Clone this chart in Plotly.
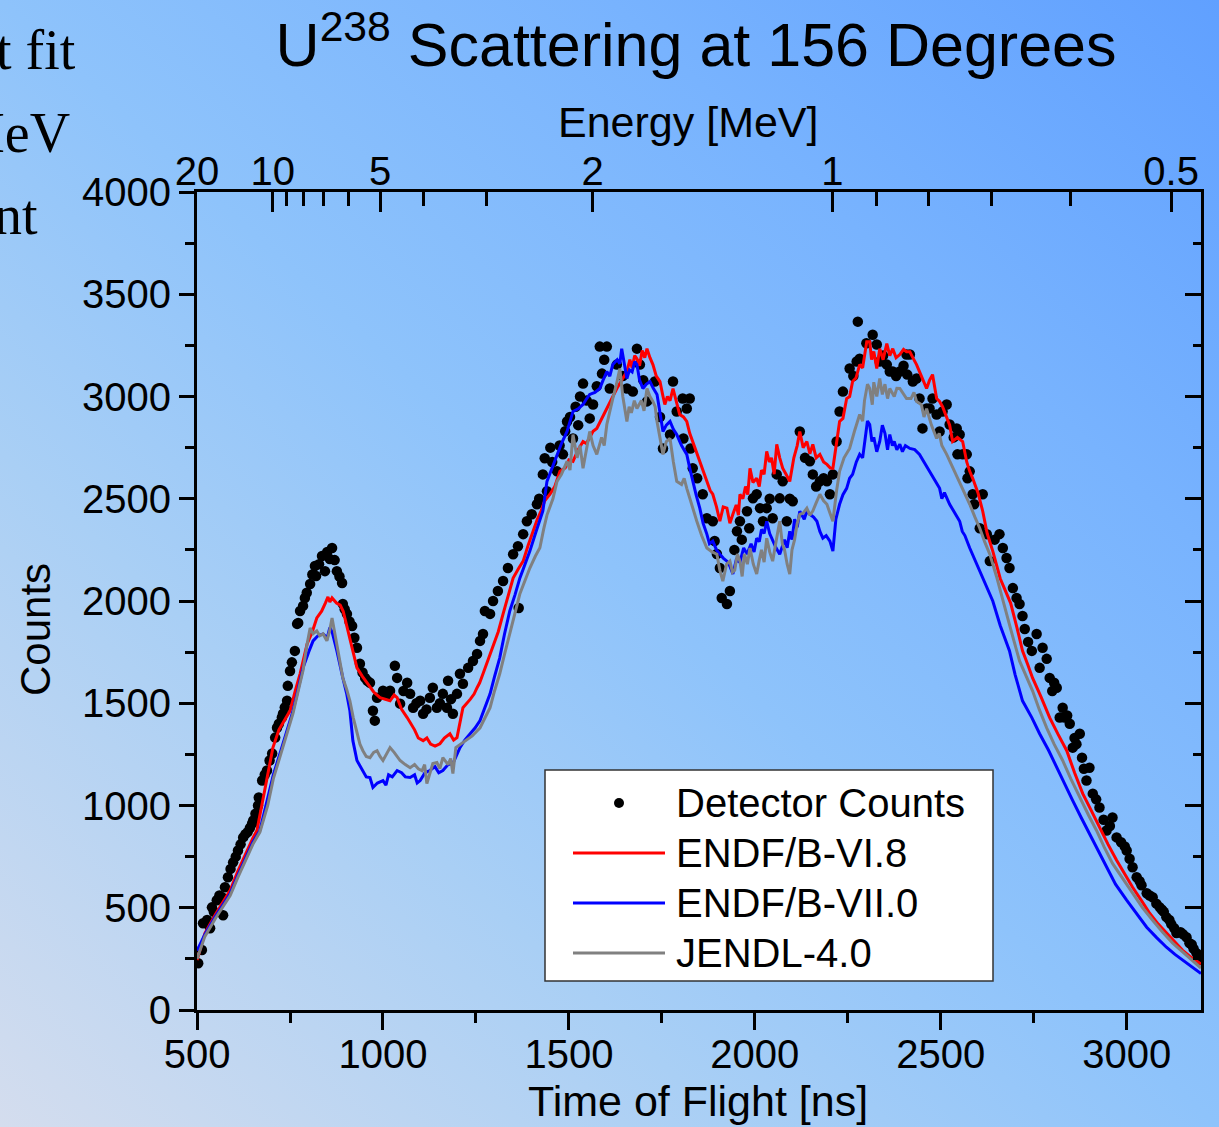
import base64
import plotly.graph_objects as go

# ---------------- data ----------------
DETECTOR = [(503,229),(513,293),(516,424),(527,440),(535,400),(540,502),(545,480),(553,537),(560,560),(567,551),(570,463),(575,600),(583,649),(590,690),(597,722),(604,750),(610,780),(617,810),(624,844),(630,860),(636,870),(642,890),(648,912),(651,927),(657,960),(664,1000),(666,1039),(675,1122),(682,1150),(688,1171),(695,1220),(702,1254),(710,1332),(715,1380),(720,1400),(728,1430),(731,1449),(736,1480),(742,1512),(744,1585),(750,1658),(755,1700),(763,1756),(769,1888),(772,1893),(777,1951),(785,1976),(790,2015),(795,2040),(804,2083),(810,2130),(817,2171),(820,2122),(828,2180),(836,2220),(844,2146),(850,2240),(857,2205),(863,2259),(870,2200),(876,2146),(883,2120),(890,2088),(892,1985),(897,1960),(903,1937),(910,1900),(917,1878),(923,1820),(930,1771),(938,1693),(945,1650),(952,1624),(958,1610),(965,1600),(973,1463),(978,1415),(984,1527),(1000,1561),(1010,1540),(1019,1561),(1032,1683),(1038,1624),(1046,1498),(1055,1560),(1065,1600),(1073,1546),(1081,1478),(1090,1500),(1100,1512),(1108,1449),(1117,1470),(1126,1527),(1134,1576),(1145,1478),(1153,1500),(1161,1546),(1172,1478),(1175,1610),(1183,1520),(1188,1449),(1199,1546),(1207,1644),(1215,1595),(1229,1673),(1242,1707),(1253,1741),(1261,1805),(1269,1839),(1274,1951),(1288,1937),(1296,2000),(1309,2049),(1323,2098),(1336,2161),(1350,2229),(1363,2268),(1365,1966),(1377,2327),(1387,2390),(1400,2424),(1414,2473),(1420,2500),(1430,2619),(1435,2698),(1441,2537),(1450,2750),(1455,2680),(1468,2634),(1475,2760),(1484,2717),(1490,2830),(1495,2878),(1503,2900),(1511,2795),(1518,2950),(1525,2860),(1530,3000),(1538,3063),(1548,2980),(1556,2893),(1565,2961),(1575,3050),(1583,3244),(1589,3112),(1595,3180),(1602,3244),(1610,3039),(1629,3156),(1645,3100),(1656,3039),(1672,3024),(1683,3234),(1691,3156),(1700,3080),(1710,2976),(1731,3073),(1745,2900),(1753,2746),(1772,2814),(1780,3073),(1790,2927),(1806,2990),(1808,2795),(1817,2941),(1825,2990),(1827,2746),(1833,2649),(1845,2600),(1860,2522),(1871,2405),(1887,2390),(1892,2293),(1898,2230),(1906,2161),(1911,2015),(1925,1985),(1933,2049),(1945,2250),(1952,2341),(1960,2390),(1965,2300),(1979,2439),(1985,2356),(1995,2502),(2005,2522),(2014,2454),(2022,2390),(2032,2454),(2040,2500),(2048,2405),(2059,2619),(2067,2502),(2075,2585),(2086,2390),(2094,2500),(2102,2488),(2121,2829),(2135,2700),(2148,2683),(2156,2619),(2165,2560),(2175,2585),(2185,2600),(2194,2585),(2202,2522),(2210,2619),(2220,2780),(2228,2927),(2237,3024),(2255,3137),(2265,3100),(2274,3171),(2277,3366),(2282,3185),(2300,3260),(2317,3302),(2328,3254),(2336,3171),(2345,3200),(2355,3156),(2363,3122),(2371,3122),(2380,3100),(2390,3122),(2400,3150),(2408,3205),(2410,3107),(2417,3205),(2425,3073),(2435,3088),(2443,2990),(2451,2844),(2462,2941),(2470,2941),(2478,2990),(2489,2912),(2497,2829),(2505,2927),(2516,2961),(2524,2863),(2535,2800),(2543,2844),(2545,2717),(2551,2814),(2559,2717),(2570,2717),(2572,2600),(2578,2634),(2586,2522),(2590,2473),(2605,2356),(2613,2522),(2624,2327),(2632,2195),(2645,2300),(2658,2327),(2667,2259),(2677,2210),(2685,2161),(2694,2063),(2704,2015),(2712,1985),(2720,1927),(2726,1863),(2735,1800),(2745,1756),(2758,1839),(2766,1673),(2774,1771),(2785,1717),(2793,1624),(2800,1560),(2805,1600),(2812,1576),(2820,1430),(2828,1478),(2833,1430),(2840,1440),(2847,1400),(2855,1283),(2860,1330),(2865,1300),(2874,1351),(2880,1234),(2885,1180),(2892,1122),(2900,1185),(2909,1058),(2918,1030),(2927,990),(2938,930),(2946,878),(2955,900),(2962,941),(2973,844),(2985,820),(2995,800),(3000,780),(3008,740),(3016,698),(3027,649),(3035,630),(3040,610),(3054,571),(3062,560),(3070,551),(3080,520),(3089,502),(3095,490),(3100,480),(3107,454),(3115,440),(3120,420),(3128,400),(3134,376),(3145,380),(3152,370),(3161,356),(3169,327),(3175,320),(3180,300),(3188,278),(3192,260),(3196,244)]

ENDF_B_VI_8 = [(500,244),(521,375),(550,470),(589,585),(610,680),(634,780),(650,840),(661,878),(675,1010),(690,1150),(704,1283),(720,1370),(735,1420),(750,1463),(764,1560),(777,1644),(796,1790),(810,1850),(822,1917),(835,1950),(845,1990),(852,2020),(857,1995),(863,2015),(875,1990),(885,1980),(893,1950),(902,1880),(911,1805),(920,1740),(930,1673),(945,1630),(957,1600),(975,1555),(992,1527),(1005,1520),(1019,1512),(1030,1540),(1038,1527),(1050,1470),(1065,1430),(1085,1370),(1095,1330),(1108,1317),(1118,1330),(1128,1300),(1140,1290),(1153,1302),(1165,1330),(1180,1351),(1190,1320),(1199,1332),(1207,1400),(1215,1478),(1235,1520),(1245,1545),(1253,1576),(1260,1600),(1269,1644),(1280,1700),(1296,1771),(1310,1850),(1323,1937),(1335,2020),(1350,2112),(1365,2160),(1377,2195),(1390,2270),(1403,2341),(1415,2400),(1425,2440),(1435,2490),(1449,2522),(1462,2560),(1476,2634),(1490,2650),(1500,2690),(1511,2683),(1525,2740),(1538,2780),(1547,2770),(1555,2800),(1565,2830),(1575,2844),(1590,2900),(1602,2941),(1615,2990),(1629,3039),(1642,3080),(1656,3122),(1664,3180),(1670,3140),(1677,3200),(1683,3185),(1690,3150),(1697,3225),(1704,3190),(1710,3234),(1718,3190),(1726,3156),(1735,3100),(1745,3073),(1752,3010),(1758,2961),(1765,3000),(1772,2980),(1780,3039),(1790,2960),(1798,2912),(1808,2900),(1817,2878),(1825,2820),(1833,2780),(1842,2740),(1852,2683),(1862,2630),(1871,2585),(1880,2540),(1887,2522),(1897,2460),(1906,2390),(1915,2460),(1925,2454),(1933,2380),(1941,2424),(1950,2470),(1956,2420),(1960,2522),(1968,2500),(1975,2560),(1981,2520),(1987,2649),(1995,2580),(2005,2600),(2012,2560),(2018,2640),(2025,2620),(2032,2732),(2039,2680),(2045,2700),(2052,2620),(2059,2766),(2067,2700),(2075,2649),(2084,2620),(2094,2585),(2105,2700),(2114,2760),(2121,2829),(2130,2750),(2140,2780),(2148,2720),(2156,2766),(2165,2700),(2175,2717),(2185,2680),(2194,2668),(2203,2650),(2210,2649),(2219,2760),(2228,2878),(2237,2893),(2247,2990),(2255,3000),(2263,3073),(2272,3090),(2282,3156),(2290,3140),(2295,3200),(2301,3268),(2309,3268),(2314,3180),(2320,3220),(2328,3137),(2336,3234),(2345,3180),(2355,3259),(2363,3200),(2371,3234),(2380,3190),(2390,3205),(2400,3230),(2408,3219),(2417,3219),(2425,3190),(2435,3156),(2448,3100),(2462,3039),(2470,3080),(2478,3107),(2489,2990),(2497,2976),(2505,2950),(2516,2900),(2524,2860),(2532,2780),(2545,2800),(2559,2780),(2570,2680),(2578,2634),(2586,2600),(2600,2530),(2613,2439),(2625,2330),(2640,2244),(2660,2110),(2688,1990),(2705,1870),(2720,1756),(2734,1690),(2747,1624),(2770,1530),(2793,1430),(2815,1350),(2839,1268),(2860,1160),(2882,1058),(2905,975),(2927,893),(2950,810),(2973,732),(2995,665),(3016,600),(3040,535),(3062,473),(3085,420),(3107,376),(3130,330),(3150,293),(3175,255),(3200,225)]

ENDF_B_VII_0 = [(500,290),(521,370),(550,460),(589,570),(610,660),(634,760),(650,820),(669,878),(690,1030),(705,1150),(723,1254),(740,1360),(758,1463),(772,1570),(785,1673),(800,1750),(812,1805),(825,1830),(839,1839),(850,1820),(857,1870),(863,1850),(870,1800),(876,1756),(892,1624),(902,1550),(911,1463),(919,1317),(930,1220),(946,1171),(955,1140),(965,1137),(973,1088),(985,1110),(1000,1122),(1008,1100),(1015,1150),(1025,1140),(1038,1171),(1050,1160),(1060,1140),(1073,1137),(1085,1150),(1092,1110),(1100,1122),(1113,1160),(1126,1171),(1140,1190),(1150,1160),(1161,1171),(1175,1200),(1188,1205),(1197,1240),(1207,1283),(1220,1320),(1234,1351),(1248,1380),(1261,1415),(1275,1480),(1288,1546),(1300,1630),(1314,1722),(1327,1840),(1341,1951),(1355,2030),(1368,2112),(1382,2180),(1395,2244),(1410,2330),(1422,2390),(1430,2440),(1441,2585),(1455,2650),(1468,2717),(1480,2770),(1495,2829),(1503,2880),(1511,2927),(1525,2940),(1538,2961),(1548,2990),(1556,3010),(1570,3020),(1583,3039),(1592,3080),(1602,3122),(1610,3100),(1618,3156),(1630,3180),(1637,3160),(1642,3234),(1650,3150),(1656,3088),(1663,3130),(1670,3120),(1677,3170),(1683,3156),(1690,3080),(1699,3039),(1708,3060),(1718,3073),(1727,3040),(1737,3010),(1745,2920),(1753,2829),(1762,2860),(1772,2878),(1781,2840),(1790,2814),(1803,2760),(1817,2717),(1825,2650),(1833,2585),(1842,2520),(1852,2454),(1861,2380),(1871,2327),(1878,2280),(1887,2293),(1897,2250),(1906,2229),(1915,2210),(1925,2195),(1933,2170),(1941,2132),(1950,2200),(1960,2190),(1970,2260),(1979,2229),(1990,2280),(1998,2240),(2005,2307),(2012,2290),(2018,2350),(2025,2330),(2032,2390),(2040,2330),(2048,2293),(2057,2260),(2067,2229),(2080,2300),(2087,2260),(2094,2341),(2100,2300),(2107,2400),(2114,2360),(2121,2439),(2133,2400),(2140,2440),(2148,2424),(2158,2410),(2167,2390),(2175,2340),(2183,2307),(2192,2320),(2202,2293),(2210,2244),(2218,2400),(2228,2473),(2237,2520),(2247,2551),(2255,2600),(2263,2619),(2273,2680),(2282,2717),(2290,2700),(2295,2760),(2303,2880),(2309,2863),(2315,2780),(2320,2800),(2328,2730),(2336,2780),(2343,2860),(2350,2820),(2357,2740),(2363,2814),(2370,2760),(2375,2780),(2382,2740),(2390,2766),(2397,2730),(2405,2760),(2417,2746),(2430,2740),(2443,2717),(2455,2680),(2470,2634),(2483,2590),(2497,2551),(2503,2500),(2510,2530),(2524,2473),(2538,2430),(2551,2390),(2558,2340),(2565,2320),(2578,2259),(2592,2200),(2605,2146),(2618,2090),(2632,2034),(2640,2000),(2660,1880),(2685,1756),(2700,1640),(2720,1512),(2745,1430),(2766,1351),(2790,1270),(2812,1185),(2835,1100),(2855,1024),(2878,940),(2900,863),(2925,775),(2946,698),(2970,615),(3000,537),(3027,470),(3054,405),(3080,355),(3107,307),(3130,272),(3150,244),(3175,210),(3200,178)]

JENDL_4_0 = [(500,250),(521,360),(550,450),(589,560),(610,650),(634,750),(650,810),(669,870),(690,1000),(705,1130),(723,1240),(740,1350),(758,1450),(772,1560),(785,1660),(795,1780),(804,1868),(812,1840),(822,1854),(830,1830),(839,1839),(849,1805),(856,1850),(863,1917),(870,1850),(876,1790),(884,1700),(892,1624),(902,1570),(911,1512),(920,1430),(930,1351),(938,1300),(946,1268),(955,1240),(965,1234),(975,1260),(984,1268),(992,1240),(1000,1220),(1010,1250),(1019,1283),(1030,1260),(1046,1220),(1060,1200),(1073,1185),(1085,1200),(1095,1180),(1105,1170),(1112,1200),(1118,1107),(1126,1160),(1134,1205),(1145,1210),(1153,1180),(1161,1234),(1175,1200),(1182,1230),(1188,1156),(1196,1283),(1210,1300),(1223,1317),(1240,1340),(1261,1380),(1275,1430),(1288,1478),(1300,1560),(1314,1644),(1327,1740),(1341,1839),(1355,1940),(1368,2034),(1382,2100),(1395,2161),(1410,2220),(1422,2260),(1432,2350),(1441,2420),(1457,2500),(1468,2585),(1480,2620),(1495,2683),(1503,2640),(1511,2814),(1522,2700),(1530,2760),(1538,2649),(1547,2750),(1556,2829),(1565,2760),(1575,2717),(1588,2800),(1595,2760),(1602,2863),(1610,2930),(1618,2990),(1628,3060),(1637,3137),(1645,3000),(1656,2878),(1662,2950),(1668,2920),(1676,2980),(1683,2941),(1695,2980),(1702,2930),(1710,3039),(1718,3000),(1726,2976),(1732,2950),(1737,2878),(1745,2800),(1753,2717),(1762,2780),(1772,2795),(1781,2680),(1790,2585),(1803,2570),(1810,2600),(1817,2551),(1830,2470),(1844,2390),(1857,2320),(1871,2259),(1885,2240),(1898,2229),(1906,2150),(1914,2097),(1924,2180),(1933,2195),(1940,2140),(1946,2150),(1953,2230),(1960,2195),(1966,2120),(1972,2230),(1980,2180),(1987,2259),(1996,2180),(2005,2132),(2012,2200),(2018,2250),(2025,2190),(2032,2307),(2040,2240),(2048,2195),(2058,2300),(2067,2390),(2074,2280),(2080,2250),(2087,2180),(2094,2132),(2100,2250),(2107,2300),(2114,2380),(2121,2424),(2130,2430),(2140,2454),(2148,2420),(2156,2440),(2165,2480),(2175,2522),(2185,2490),(2194,2473),(2202,2430),(2210,2390),(2220,2540),(2228,2634),(2240,2700),(2255,2746),(2268,2830),(2282,2912),(2290,2880),(2295,2980),(2303,3060),(2309,3039),(2316,2960),(2320,3070),(2328,3000),(2336,3088),(2343,3010),(2350,3060),(2357,2990),(2363,3039),(2375,3000),(2382,3040),(2390,3039),(2400,3010),(2408,2990),(2420,2990),(2428,3020),(2435,2976),(2448,2960),(2455,2900),(2462,2941),(2475,2860),(2489,2795),(2496,2820),(2503,2760),(2516,2717),(2533,2650),(2551,2585),(2565,2530),(2578,2473),(2592,2410),(2605,2356),(2618,2290),(2632,2229),(2650,2120),(2667,2000),(2690,1850),(2712,1707),(2730,1630),(2747,1561),(2765,1470),(2785,1380),(2805,1300),(2828,1220),(2850,1130),(2874,1039),(2897,955),(2919,878),(2940,795),(2962,717),(2990,640),(3016,571),(3043,500),(3070,439),(3097,380),(3124,327),(3150,285),(3177,244),(3200,205)]

SERIES_NAMES = ["Detector Counts", "ENDF/B-VI.8", "ENDF/B-VII.0", "JENDL-4.0"]
SERIES_COLORS = ["black", "#ff0000", "#0000ff", "#808080"]

TOF_TICKS = [500, 1000, 1500, 2000, 2500, 3000]
COUNT_TICKS = [0, 500, 1000, 1500, 2000, 2500, 3000, 3500, 4000]
ENERGY_MAJOR = [20, 10, 5, 2, 1, 0.5]
ENERGY_MAJOR_TEXT = ["20", "10", "5", "2", "1", "0.5"]
ENERGY_MINOR = [9, 8, 7, 6, 4, 3, 0.9, 0.8, 0.7, 0.6]

# flight-time calibration of the top energy axis (ns)
T0_NS = 8.0
K_NS = 2200.3


def energy_to_tof(e):
    return T0_NS + K_NS / e ** 0.5


def split(pairs):
    return [p[0] for p in pairs], [p[1] for p in pairs]


FONT = "Liberation Sans, Arial, sans-serif"
W, H = 1219, 1127
ML, MR, MT, MB = 197, 18, 192, 117
PW, PH = W - ML - MR, H - MT - MB

fig = go.Figure()

tx, cy = split(DETECTOR)
fig.add_trace(go.Scatter(x=tx, y=cy, mode="markers", name=SERIES_NAMES[0],
                         marker=dict(color=SERIES_COLORS[0], size=10.5, line=dict(width=0))))
for name, col, data in zip(SERIES_NAMES[1:], SERIES_COLORS[1:], [ENDF_B_VI_8, ENDF_B_VII_0, JENDL_4_0]):
    tx, cy = split(data)
    fig.add_trace(go.Scatter(x=tx, y=cy, mode="lines", name=name, line=dict(color=col, width=3)))

# empty trace so the top/right axes exist
fig.add_trace(go.Scatter(x=[], y=[], xaxis="x2", yaxis="y2", showlegend=False, hoverinfo="skip"))

# gradient background
svg = ('<svg xmlns="http://www.w3.org/2000/svg" width="1219" height="1127" viewBox="0 0 1219 1127" '
       'preserveAspectRatio="none"><defs><linearGradient id="g" x1="0" y1="1" x2="1" y2="0">'
       '<stop offset="0" stop-color="#d4ddee"/><stop offset="0.3" stop-color="#a9cff5"/>'
       '<stop offset="0.5" stop-color="#8ec3fb"/><stop offset="0.75" stop-color="#78b3fe"/>'
       '<stop offset="1" stop-color="#60a0ff"/></linearGradient></defs>'
       '<rect width="1219" height="1127" fill="url(#g)"/></svg>')
src = "data:image/svg+xml;base64," + base64.b64encode(svg.encode()).decode()

XR = [499.8, 3200]
YR = [0, 4000]
axis_common = dict(showgrid=False, zeroline=False, showline=True, linecolor="black", linewidth=3,
                   automargin=False, tickcolor="black", tickwidth=2.5,
                   tickfont=dict(family=FONT, size=40, color="black"))

fig.update_layout(
    width=W, height=H,
    margin=dict(l=ML, r=MR, t=MT, b=MB, pad=0, autoexpand=False),
    paper_bgcolor="#8cc2fa", plot_bgcolor="rgba(0,0,0,0)",
    showlegend=False,
    font=dict(family=FONT, color="black"),
    title=dict(text="U<sup>238</sup> Scattering at 156 Degrees", font=dict(family=FONT, size=61, color="black"),
               xref="container", x=0.571, xanchor="center", yref="container", y=0.96, yanchor="middle"),
    images=[dict(source=src, xref="paper", yref="paper", x=-ML / PW, y=1 + MT / PH,
                 sizex=W / PW, sizey=H / PH, xanchor="left", yanchor="top", sizing="stretch", layer="below")],
    xaxis=dict(range=XR, tickmode="array", tickvals=TOF_TICKS, ticks="outside", ticklen=17,
               ticklabelstandoff=-10,
               minor=dict(dtick=250, tick0=500, ticks="outside", ticklen=10, tickwidth=2.5, tickcolor="black"),
               **axis_common),
    xaxis2=dict(range=XR, overlaying="x", side="top", anchor="y", tickmode="array",
                tickvals=[energy_to_tof(e) for e in ENERGY_MAJOR], ticktext=ENERGY_MAJOR_TEXT,
                ticks="inside", ticklen=20, ticklabelstandoff=-12,
                minor=dict(tickmode="array", tickvals=[energy_to_tof(e) for e in ENERGY_MINOR],
                           ticks="inside", ticklen=14, tickwidth=2.5, tickcolor="black"),
                **axis_common),
    yaxis=dict(range=YR, tickmode="array", tickvals=COUNT_TICKS, ticks="outside", ticklen=15,
               minor=dict(dtick=250, tick0=0, ticks="outside", ticklen=9, tickwidth=2.5, tickcolor="black"),
               **axis_common),
    yaxis2=dict(range=YR, overlaying="y", side="right", anchor="x", tickmode="array", tickvals=COUNT_TICKS,
                showticklabels=False, ticks="inside", ticklen=16,
                minor=dict(dtick=250, tick0=0, ticks="inside", ticklen=8, tickwidth=2.5, tickcolor="black"),
                **axis_common),
)

# ---- legend box drawn by hand (matches the long line samples of the original) ----
def px_x(p):
    return (p - ML) / PW


def px_y(p):
    return (H - MB - p) / PH


shapes = [dict(type="rect", xref="paper", yref="paper", x0=px_x(545), x1=px_x(993), y0=px_y(981), y1=px_y(770),
               fillcolor="white", line=dict(color="#333333", width=1.5), layer="above")]
entry_y = [803, 853, 903, 953]
for i, (name, col) in enumerate(zip(SERIES_NAMES, SERIES_COLORS)):
    yy = px_y(entry_y[i])
    if i == 0:
        shapes.append(dict(type="circle", xref="paper", yref="paper", xsizemode="pixel", ysizemode="pixel",
                           xanchor=px_x(619), yanchor=yy, x0=-5, x1=5, y0=-5, y1=5,
                           fillcolor="black", line=dict(color="black", width=0), layer="above"))
    else:
        shapes.append(dict(type="line", xref="paper", yref="paper", x0=px_x(573), x1=px_x(665), y0=yy, y1=yy,
                           line=dict(color=col, width=3), layer="above"))
fig.update_layout(shapes=shapes)

annotations = []
for i, name in enumerate(SERIES_NAMES):
    annotations.append(dict(text=name, xref="paper", yref="paper", x=px_x(674), y=px_y(entry_y[i]),
                            xanchor="left", yanchor="middle", showarrow=False,
                            font=dict(family=FONT, size=40, color="black")))

# axis titles placed where the original has them
annotations.append(dict(text="Energy [MeV]", xref="paper", yref="paper", x=px_x(688), y=px_y(122),
                        xanchor="center", yanchor="middle", showarrow=False,
                        font=dict(family=FONT, size=43, color="black")))
annotations.append(dict(text="Time of Flight [ns]", xref="paper", yref="paper", x=px_x(698), y=px_y(1101),
                        xanchor="center", yanchor="middle", showarrow=False,
                        font=dict(family=FONT, size=43, color="black")))
annotations.append(dict(text="Counts", xref="paper", yref="paper", x=px_x(35), y=px_y(630),
                        xanchor="center", yanchor="middle", textangle=-90, showarrow=False,
                        font=dict(family=FONT, size=42, color="black")))

# cropped slide text at the far left edge
SERIF = "Liberation Serif, Times New Roman, serif"
for txt, right_px, mid_px in [("t fit", 78, 50), ("MeV", 72, 133), ("nt", 40, 215)]:
    annotations.append(dict(text=txt, xref="paper", yref="paper", x=px_x(right_px), y=px_y(mid_px),
                            xanchor="right", yanchor="middle", showarrow=False,
                            font=dict(family=SERIF, size=56, color="black")))
fig.update_layout(annotations=annotations)

fig.write_html("out.html")
